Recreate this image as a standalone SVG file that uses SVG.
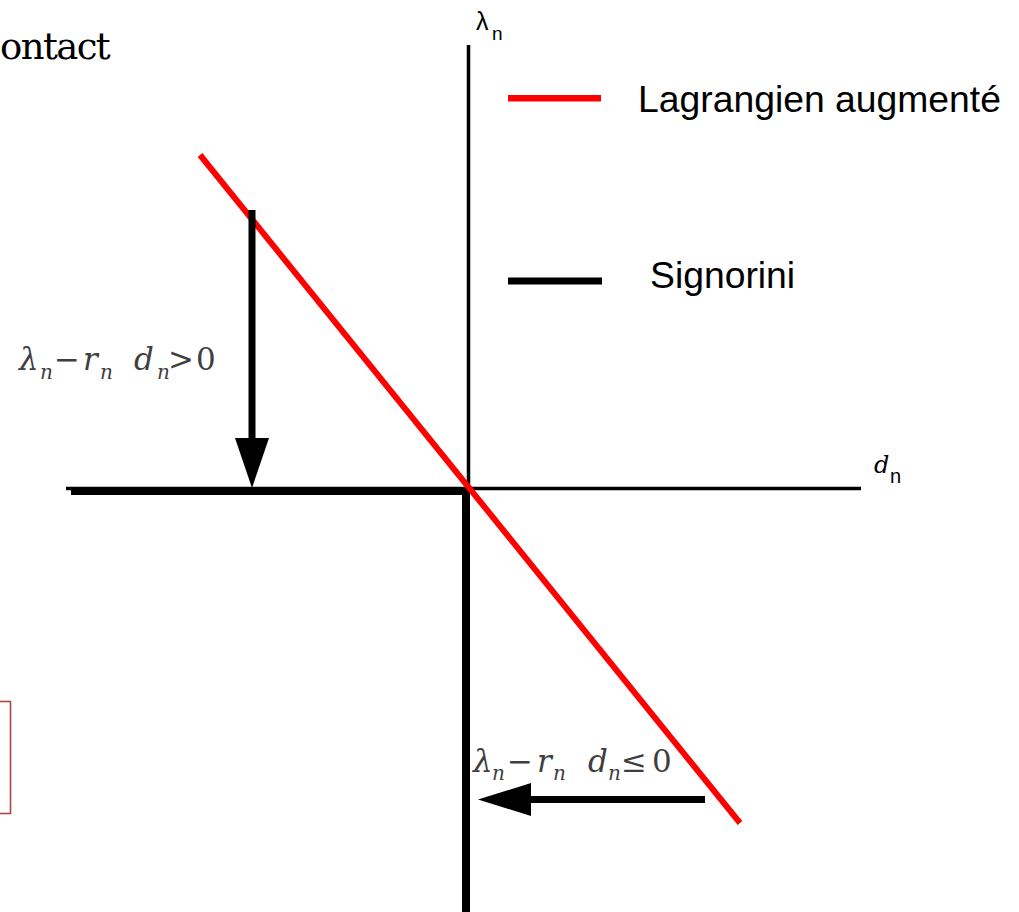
<svg xmlns="http://www.w3.org/2000/svg" width="1019" height="912" viewBox="0 0 1019 912">
<style>
  .axis{stroke:#000;stroke-width:3.5;fill:none}
  .sig{stroke:#000;stroke-width:8;fill:none}
  .lag{stroke:#ff0000;stroke-width:6;fill:none}
  .arr{stroke:#000;stroke-width:7;fill:none}
  .head{fill:#000}
  .sans{font-family:"Liberation Sans","Arial",sans-serif;fill:#000}
  .math{font-family:"DejaVu Serif","Liberation Serif",serif;fill:#3f3f3f;font-size:31px}
  .it{font-style:italic}
  .sub{font-size:20px;font-style:italic}
</style>
<rect width="1019" height="912" fill="#fff"/>

<g id="title">
  <text x="0" y="59" font-family="DejaVu Serif, Liberation Serif, serif" font-size="37" letter-spacing="-1.6" fill="#000">ontact</text>
</g>

<g id="frame">
  <rect x="-5" y="701.5" width="15.5" height="112" fill="none" stroke="#b04444" stroke-width="1.6"/>
</g>

<g id="axes">
  <line class="axis" x1="468.5" y1="45" x2="468.5" y2="490"/>
  <line class="axis" x1="66" y1="488.5" x2="861" y2="488.5"/>
  <text id="lambda-label" class="sans" x="476" y="30" font-size="25">λ<tspan x="492" y="40" font-size="19">n</tspan></text>
  <text id="d-label" x="874" y="473" font-family="DejaVu Serif, Liberation Serif, serif" font-style="italic" font-size="24" fill="#000">d<tspan class="sans" x="890" y="483" font-size="20" font-style="normal">n</tspan></text>
</g>

<g id="signorini">
  <line class="sig" x1="71" y1="491" x2="470" y2="491"/>
  <line class="sig" x1="466" y1="487" x2="466" y2="912"/>
</g>

<g id="lagrangien">
  <line class="lag" x1="200" y1="155" x2="740" y2="823"/>
</g>

<g id="connectors">
  <line class="arr" x1="252" y1="210" x2="252" y2="442" stroke-width="7.5"/>
  <polygon class="head" points="235,438 269,438 252,488"/>
  <line class="arr" x1="528" y1="799.5" x2="705" y2="799.5" stroke-width="6.5"/>
  <polygon class="head" points="531,783 531,816 478,799.5"/>
</g>

<g id="label-positive">
  <text class="math" y="370"><tspan class="it" x="19">λ</tspan><tspan class="sub" x="40" y="379">n</tspan><tspan x="54" y="370">−</tspan><tspan class="it" x="83">r</tspan><tspan class="sub" x="100" y="379">n</tspan><tspan class="it" x="134" y="370">d</tspan><tspan class="sub" x="157" y="379">n</tspan><tspan x="168" y="370">&gt;</tspan><tspan x="196">0</tspan></text>
</g>

<g id="label-negative">
  <text class="math" y="772"><tspan class="it" x="473">λ</tspan><tspan class="sub" x="492" y="780">n</tspan><tspan x="507" y="772">−</tspan><tspan class="it" x="537">r</tspan><tspan class="sub" x="553" y="780">n</tspan><tspan class="it" x="588" y="772">d</tspan><tspan class="sub" x="608" y="780">n</tspan><tspan x="621" y="772">≤</tspan><tspan x="652">0</tspan></text>
</g>

<g id="legend">
  <rect x="508" y="95" width="93" height="6.5" fill="#ff0000"/>
  <text class="sans" x="638" y="112" font-size="37.3">Lagrangien augmenté</text>
  <rect x="508" y="277.5" width="94" height="7" fill="#000"/>
  <text class="sans" x="650" y="288" font-size="37.3">Signorini</text>
</g>
</svg>
